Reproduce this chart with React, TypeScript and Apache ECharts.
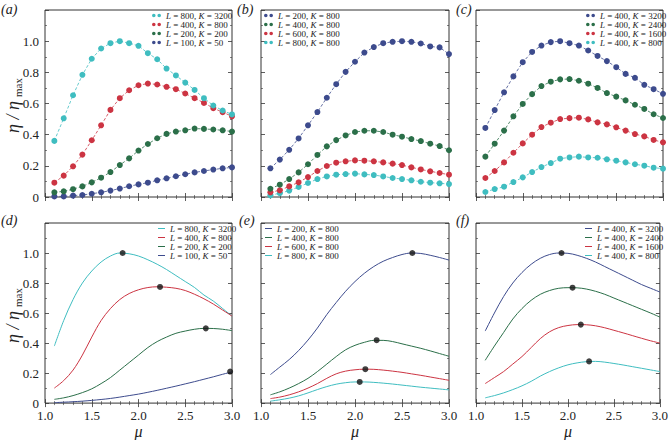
import React, { useEffect, useRef } from "react";
import * as echarts from "echarts";

const FONT = "'Liberation Serif', 'Times New Roman', Times, serif";

const MU = [1.1, 1.2, 1.3, 1.4, 1.5, 1.6, 1.7, 1.8, 1.9, 2.0, 2.1, 2.2, 2.3, 2.4, 2.5, 2.6, 2.7, 2.8, 2.9, 3.0];
const X_TICKS = [1.0, 1.5, 2.0, 2.5, 3.0];
const Y_TICKS = [0, 0.2, 0.4, 0.6, 0.8, 1.0];

const CYAN = "#3fbdc0";
const RED = "#cc3442";
const GREEN = "#2b6f49";
const BLUE = "#3d4b8d";

// (a) simulated points
const A_CYAN = [0.36, 0.505, 0.653, 0.784, 0.887, 0.953, 0.987, 1.0, 0.987, 0.97, 0.923, 0.884, 0.824, 0.78, 0.734, 0.687, 0.634, 0.587, 0.555, 0.53];
const A_RED = [0.092, 0.137, 0.197, 0.272, 0.364, 0.46, 0.559, 0.634, 0.685, 0.717, 0.728, 0.722, 0.707, 0.692, 0.664, 0.634, 0.604, 0.57, 0.544, 0.518];
const A_GREEN = [0.03, 0.036, 0.05, 0.068, 0.094, 0.124, 0.16, 0.205, 0.248, 0.298, 0.34, 0.377, 0.405, 0.42, 0.428, 0.439, 0.437, 0.433, 0.428, 0.42];
const A_BLUE = [0.004, 0.004, 0.009, 0.013, 0.021, 0.03, 0.041, 0.054, 0.069, 0.081, 0.092, 0.107, 0.12, 0.133, 0.146, 0.158, 0.167, 0.176, 0.184, 0.19];

// (b)
const B_BLUE = [0.184, 0.24, 0.303, 0.376, 0.46, 0.545, 0.637, 0.724, 0.803, 0.868, 0.927, 0.962, 0.987, 0.996, 1.0, 0.996, 0.985, 0.966, 0.96, 0.917];
const B_GREEN = [0.053, 0.079, 0.115, 0.158, 0.21, 0.27, 0.325, 0.365, 0.395, 0.417, 0.425, 0.425, 0.417, 0.4, 0.387, 0.372, 0.359, 0.342, 0.327, 0.3];
const B_RED = [0.03, 0.043, 0.068, 0.094, 0.128, 0.167, 0.199, 0.22, 0.229, 0.235, 0.233, 0.229, 0.222, 0.214, 0.205, 0.19, 0.177, 0.165, 0.154, 0.143];
const B_CYAN = [0.011, 0.024, 0.041, 0.064, 0.09, 0.115, 0.132, 0.143, 0.147, 0.15, 0.145, 0.141, 0.132, 0.122, 0.115, 0.107, 0.098, 0.092, 0.088, 0.083];

// (c)
const C_BLUE = [0.443, 0.558, 0.672, 0.774, 0.865, 0.931, 0.972, 0.994, 1.0, 0.987, 0.972, 0.94, 0.905, 0.872, 0.833, 0.79, 0.765, 0.72, 0.692, 0.662];
const C_GREEN = [0.259, 0.342, 0.426, 0.518, 0.597, 0.66, 0.712, 0.74, 0.755, 0.757, 0.746, 0.727, 0.7, 0.667, 0.644, 0.62, 0.592, 0.565, 0.531, 0.507];
const C_RED = [0.122, 0.167, 0.222, 0.284, 0.344, 0.4, 0.449, 0.477, 0.5, 0.506, 0.509, 0.498, 0.479, 0.466, 0.447, 0.426, 0.404, 0.389, 0.366, 0.351];
const C_CYAN = [0.032, 0.051, 0.066, 0.096, 0.126, 0.16, 0.192, 0.218, 0.246, 0.254, 0.259, 0.254, 0.252, 0.242, 0.233, 0.222, 0.21, 0.201, 0.188, 0.182];

// (d) theory curves
const D_CYAN = [0.38, 0.55, 0.69, 0.8, 0.88, 0.94, 0.98, 1.0, 0.995, 0.98, 0.955, 0.925, 0.89, 0.85, 0.81, 0.77, 0.72, 0.68, 0.63, 0.58];
const D_RED = [0.1, 0.15, 0.22, 0.32, 0.44, 0.55, 0.63, 0.69, 0.73, 0.755, 0.77, 0.775, 0.772, 0.765, 0.75, 0.725, 0.695, 0.66, 0.62, 0.58];
const D_GREEN = [0.025, 0.035, 0.05, 0.07, 0.095, 0.13, 0.17, 0.22, 0.27, 0.32, 0.37, 0.41, 0.44, 0.465, 0.48, 0.492, 0.498, 0.497, 0.492, 0.483];
const D_BLUE = [0.003, 0.006, 0.009, 0.013, 0.018, 0.024, 0.031, 0.04, 0.05, 0.06, 0.072, 0.085, 0.099, 0.113, 0.128, 0.143, 0.159, 0.175, 0.192, 0.208];
const D_PEAK_MU = [1.83, 2.23, 2.72, 2.98];
const D_PEAK = [1.0, 0.774, 0.498, 0.21];

// (e)
const E_BLUE = [0.19, 0.24, 0.29, 0.35, 0.42, 0.5, 0.59, 0.67, 0.745, 0.81, 0.865, 0.91, 0.945, 0.97, 0.99, 1.0, 0.997, 0.985, 0.97, 0.953];
const E_GREEN = [0.055, 0.075, 0.1, 0.13, 0.165, 0.21, 0.26, 0.31, 0.355, 0.385, 0.405, 0.418, 0.418, 0.41, 0.395, 0.38, 0.365, 0.348, 0.33, 0.312];
const E_RED = [0.03, 0.04, 0.055, 0.075, 0.1, 0.13, 0.165, 0.195, 0.213, 0.222, 0.226, 0.225, 0.22, 0.213, 0.205, 0.195, 0.185, 0.174, 0.163, 0.152];
const E_CYAN = [0.013, 0.022, 0.033, 0.048, 0.068, 0.09, 0.11, 0.126, 0.136, 0.141, 0.141, 0.138, 0.133, 0.127, 0.12, 0.113, 0.106, 0.1, 0.094, 0.088];
const E_PEAK_MU = [2.61, 2.23, 2.11, 2.05];
const E_PEAK = [1.0, 0.419, 0.226, 0.141];

// (f)
const F_BLUE = [0.48, 0.6, 0.71, 0.8, 0.87, 0.925, 0.965, 0.99, 1.0, 0.998, 0.985, 0.965, 0.94, 0.91, 0.88, 0.85, 0.82, 0.79, 0.765, 0.74];
const F_GREEN = [0.285, 0.38, 0.47, 0.56, 0.63, 0.685, 0.725, 0.75, 0.765, 0.769, 0.768, 0.76, 0.745, 0.725, 0.7, 0.675, 0.65, 0.625, 0.6, 0.573];
const F_RED = [0.13, 0.17, 0.21, 0.26, 0.31, 0.37, 0.43, 0.475, 0.503, 0.517, 0.523, 0.522, 0.515, 0.502, 0.485, 0.468, 0.45, 0.432, 0.415, 0.4];
const F_CYAN = [0.035, 0.05, 0.068, 0.09, 0.115, 0.145, 0.18, 0.21, 0.235, 0.255, 0.268, 0.276, 0.278, 0.273, 0.264, 0.254, 0.243, 0.232, 0.221, 0.21];
const F_PEAK_MU = [1.93, 2.05, 2.14, 2.23];
const F_PEAK = [1.0, 0.769, 0.523, 0.278];

const LABELS_A = ["L = 800, K = 3200", "L = 400, K = 800", "L = 200, K = 200", "L = 100, K = 50"];
const LABELS_B = ["L = 200, K = 800", "L = 400, K = 800", "L = 600, K = 800", "L = 800, K = 800"];
const LABELS_C = ["L = 400, K = 3200", "L = 400, K = 2400", "L = 400, K = 1600", "L = 400, K = 800"];

const PANELS = [
  { key: "a", row: 0, col: 0, labels: LABELS_A, colors: [CYAN, RED, GREEN, BLUE], data: [A_CYAN, A_RED, A_GREEN, A_BLUE], peaksMu: null, peaks: null },
  { key: "b", row: 0, col: 1, labels: LABELS_B, colors: [BLUE, GREEN, RED, CYAN], data: [B_BLUE, B_GREEN, B_RED, B_CYAN], peaksMu: null, peaks: null },
  { key: "c", row: 0, col: 2, labels: LABELS_C, colors: [BLUE, GREEN, RED, CYAN], data: [C_BLUE, C_GREEN, C_RED, C_CYAN], peaksMu: null, peaks: null },
  { key: "d", row: 1, col: 0, labels: LABELS_A, colors: [CYAN, RED, GREEN, BLUE], data: [D_CYAN, D_RED, D_GREEN, D_BLUE], peaksMu: D_PEAK_MU, peaks: D_PEAK },
  { key: "e", row: 1, col: 1, labels: LABELS_B, colors: [BLUE, GREEN, RED, CYAN], data: [E_BLUE, E_GREEN, E_RED, E_CYAN], peaksMu: E_PEAK_MU, peaks: E_PEAK },
  { key: "f", row: 1, col: 2, labels: LABELS_C, colors: [BLUE, GREEN, RED, CYAN], data: [F_BLUE, F_GREEN, F_RED, F_CYAN], peaksMu: F_PEAK_MU, peaks: F_PEAK },
];

const GRID_LEFT = [45, 261, 476];
const GRID_WIDTH = [187, 188, 187];
const GRID_TOP = [10, 223];
const GRID_HEIGHT = [187, 186];
const LEGEND_LEFT = [[152, 264, 586], [158, 265, 585]];
const LEGEND_TOP = [11, 224];
const PANEL_LABEL_POS = [[[1, 2], [237, 2], [456, 2]], [[1, 213], [239, 213], [456, 213]]];

const TWO_DOTS = "path://M0,2a2,2 0 1,0 4,0a2,2 0 1,0 -4,0zM6,2a2,2 0 1,0 4,0a2,2 0 1,0 -4,0z";

function buildOption() {
  const grid: any[] = [];
  const xAxis: any[] = [];
  const yAxis: any[] = [];
  const series: any[] = [];
  const legend: any[] = [];
  const graphic: any[] = [];
  const labelMap: Record<string, string> = {};

  PANELS.forEach((p, i) => {
    grid.push({
      left: GRID_LEFT[p.col], top: GRID_TOP[p.row], width: GRID_WIDTH[p.col], height: GRID_HEIGHT[p.row],
      show: true, borderColor: "#333", borderWidth: 1, backgroundColor: "transparent",
    });
    const tick = { inside: true, length: 4, lineStyle: { color: "#333", width: 0.8 } };
    const minorX = { show: true, splitNumber: 5, length: 2, lineStyle: { color: "#333", width: 0.6 } };
    const minorY = { show: true, splitNumber: 2, length: 2, lineStyle: { color: "#333", width: 0.6 } };
    const xBase = {
      gridIndex: i, type: "value", min: X_TICKS[0], max: X_TICKS[X_TICKS.length - 1], interval: 0.5,
      axisLine: { show: false }, axisTick: tick, minorTick: minorX, splitLine: { show: false }, minorSplitLine: { show: false },
    };
    xAxis.push({
      ...xBase, position: "bottom",
      axisLabel: { show: p.row === 1, margin: 6, fontFamily: FONT, fontSize: 13, color: "#222", formatter: (v: number) => v.toFixed(1) },
      name: p.row === 1 ? "\u03bc" : "", nameLocation: "middle", nameGap: 18,
      nameTextStyle: { fontFamily: FONT, fontStyle: "italic", fontSize: 16, color: "#222" },
    });
    xAxis.push({ ...xBase, position: "top", axisLabel: { show: false } });
    const yBase = {
      gridIndex: i, type: "value", min: 0, max: 1.2, interval: 0.2,
      axisLine: { show: false }, axisTick: tick, minorTick: minorY, splitLine: { show: false }, minorSplitLine: { show: false },
    };
    yAxis.push({
      ...yBase, position: "left",
      axisLabel: {
        show: p.col === 0, margin: 6, fontFamily: FONT, fontSize: 13, color: "#222",
        formatter: (v: number) => (v > Y_TICKS[Y_TICKS.length - 1] + 0.01 ? "" : v === 0 ? "0" : v.toFixed(1)),
      },
    });
    yAxis.push({ ...yBase, position: "right", axisLabel: { show: false } });

    const names: string[] = [];
    p.labels.forEach((lab, s) => {
      const name = `${p.key}${s}`;
      names.push(name);
      labelMap[name] = lab;
      const color = p.colors[s];
      const data = MU.map((m, k) => [m, p.data[s][k]]);
      if (p.row === 0) {
        series.push({
          type: "line", name, xAxisIndex: 2 * i, yAxisIndex: 2 * i, data,
          symbol: "circle", symbolSize: 6, showSymbol: true,
          lineStyle: { color, width: 0.8, type: [3, 2] }, itemStyle: { color },
          z: 10 - s,
        });
      } else {
        series.push({
          type: "line", name, xAxisIndex: 2 * i, yAxisIndex: 2 * i, data, smooth: 0.35,
          symbol: "none", showSymbol: false,
          lineStyle: { color, width: 1 }, itemStyle: { color },
        });
      }
    });
    if (p.peaksMu && p.peaks) {
      series.push({
        type: "scatter", name: `${p.key}peaks`, xAxisIndex: 2 * i, yAxisIndex: 2 * i,
        data: p.peaksMu.map((m, k) => [m, p.peaks![k]]),
        symbol: "circle", symbolSize: 6, itemStyle: { color: "#111" }, z: 20,
      });
    }
    legend.push({
      orient: "vertical", left: LEGEND_LEFT[p.row][p.col], top: LEGEND_TOP[p.row], padding: 0,
      itemGap: 0, selectedMode: false,
      icon: p.row === 0 ? TWO_DOTS : "rect",
      itemWidth: p.row === 0 ? 9 : 7, itemHeight: p.row === 0 ? 4 : 1,
      data: names,
      formatter: (n: string) => labelMap[n].replace(/([LK])/g, "{i|$1}"),
      textStyle: {
        fontFamily: FONT, fontSize: 9, color: "#222", lineHeight: 9,
        rich: { i: { fontFamily: FONT, fontStyle: "italic", fontSize: 9, color: "#222", lineHeight: 9 } },
      },
    });
    const pos = PANEL_LABEL_POS[p.row][p.col];
    graphic.push({
      type: "text", left: pos[0], top: pos[1],
      style: { text: `(${p.key})`, fontFamily: FONT, fontStyle: "italic", fontSize: 14, fill: "#222" },
    });
  });

  [103, 313].forEach((cy) => {
    graphic.push({
      type: "group", x: 13, y: cy, rotation: Math.PI / 2,
      children: [
        { type: "text", x: -30, y: 0, style: { text: "\u03b7 / \u03b7", fontFamily: FONT, fontStyle: "italic", fontSize: 18, fill: "#222", verticalAlign: "middle", align: "left" } },
        { type: "text", x: 6, y: 5, style: { text: "max", fontFamily: FONT, fontSize: 11, fill: "#222", verticalAlign: "middle", align: "left" } },
      ],
    });
  });

  return { animation: false, backgroundColor: "#fff", grid, xAxis, yAxis, series, legend, graphic };
}

export default function App() {
  const ref = useRef<HTMLDivElement>(null);
  useEffect(() => {
    if (!ref.current) return;
    const chart = echarts.init(ref.current, undefined, { renderer: "svg" });
    chart.setOption(buildOption() as any);
    return () => chart.dispose();
  }, []);
  return <div ref={ref} style={{ position: "fixed", left: 0, top: 0, width: 671, height: 440 }} />;
}
